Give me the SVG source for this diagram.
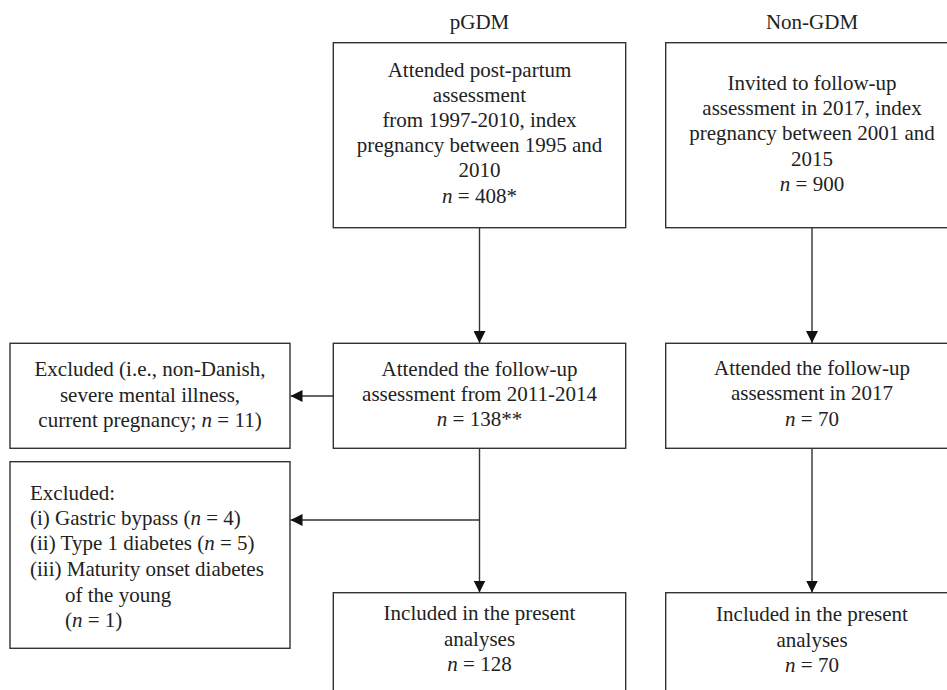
<svg xmlns="http://www.w3.org/2000/svg" width="947" height="690" viewBox="0 0 947 690">
<style>
.box{fill:#fff;stroke:#333;stroke-width:1.4}
.t{font-family:"Liberation Serif","Times New Roman",serif;font-size:21px;fill:#222}
.c{text-anchor:middle}
.ln{stroke:#333;stroke-width:1.4;fill:none}
</style>
<defs>
<marker id="ah" markerUnits="userSpaceOnUse" markerWidth="12" markerHeight="12" refX="12" refY="6" orient="auto">
<path d="M0,0 L12,6 L0,12 z" fill="#111"/>
</marker>
</defs>
<rect width="947" height="690" fill="#fff"/>
<g id="headers">
<text class="t c" x="479.5" y="29">pGDM</text>
<text class="t c" x="812" y="29">Non-GDM</text>
</g>
<g id="connectors">
<line class="ln" x1="479.5" y1="228" x2="479.5" y2="343" marker-end="url(#ah)"/>
<line class="ln" x1="812" y1="228" x2="812" y2="343" marker-end="url(#ah)"/>
<line class="ln" x1="333.3" y1="396" x2="290.5" y2="396" marker-end="url(#ah)"/>
<line class="ln" x1="479.5" y1="448.5" x2="479.5" y2="592.5" marker-end="url(#ah)"/>
<line class="ln" x1="479.5" y1="520" x2="290.5" y2="520" marker-end="url(#ah)"/>
<line class="ln" x1="812" y1="448.5" x2="812" y2="592.5" marker-end="url(#ah)"/>
</g>
<g id="pgdm-start">
<rect class="box" x="333.3" y="42.7" width="292.4" height="185"/>
<text class="t c" x="479.5" y="77">Attended post-partum</text>
<text class="t c" x="479.5" y="102">assessment</text>
<text class="t c" x="479.5" y="127">from 1997-2010, index</text>
<text class="t c" x="479.5" y="152">pregnancy between 1995 and</text>
<text class="t c" x="479.5" y="177">2010</text>
<text class="t c" x="479.5" y="203"><tspan font-style="italic">n</tspan> = 408*</text>
</g>
<g id="nongdm-start">
<rect class="box" x="665.7" y="42.7" width="300" height="185"/>
<text class="t c" x="812" y="89.5">Invited to follow-up</text>
<text class="t c" x="812" y="115">assessment in 2017, index</text>
<text class="t c" x="812" y="140">pregnancy between 2001 and</text>
<text class="t c" x="812" y="165.5">2015</text>
<text class="t c" x="812" y="190.5"><tspan font-style="italic">n</tspan> = 900</text>
</g>
<g id="pgdm-followup">
<rect class="box" x="333.3" y="343.3" width="292.4" height="105"/>
<text class="t c" x="479.5" y="375.5">Attended the follow-up</text>
<text class="t c" x="479.5" y="400.5">assessment from 2011-2014</text>
<text class="t c" x="479.5" y="425.5"><tspan font-style="italic">n</tspan> = 138**</text>
</g>
<g id="nongdm-followup">
<rect class="box" x="665.7" y="343.3" width="300" height="105"/>
<text class="t c" x="812" y="375">Attended the follow-up</text>
<text class="t c" x="812" y="400">assessment in 2017</text>
<text class="t c" x="812" y="425.5"><tspan font-style="italic">n</tspan> = 70</text>
</g>
<g id="excluded-1">
<rect class="box" x="10" y="343.3" width="280" height="105"/>
<text class="t c" x="150" y="376">Excluded (i.e., non-Danish,</text>
<text class="t c" x="150" y="401.5">severe mental illness,</text>
<text class="t c" x="150" y="426.5">current pregnancy; <tspan font-style="italic">n</tspan> = 11)</text>
</g>
<g id="excluded-2">
<rect class="box" x="10" y="461.7" width="280" height="186.6"/>
<text class="t" x="30" y="499.5">Excluded:</text>
<text class="t" x="30" y="524.5">(i) Gastric bypass (<tspan font-style="italic">n</tspan> = 4)</text>
<text class="t" x="30" y="550">(ii) Type 1 diabetes (<tspan font-style="italic">n</tspan> = 5)</text>
<text class="t" x="30" y="575.5">(iii) Maturity onset diabetes</text>
<text class="t" x="65" y="601.5">of the young</text>
<text class="t" x="65" y="626.5">(<tspan font-style="italic">n</tspan> = 1)</text>
</g>
<g id="pgdm-included">
<rect class="box" x="333.3" y="592.7" width="292.4" height="120"/>
<text class="t c" x="479.5" y="620">Included in the present</text>
<text class="t c" x="479.5" y="646">analyses</text>
<text class="t c" x="479.5" y="671"><tspan font-style="italic">n</tspan> = 128</text>
</g>
<g id="nongdm-included">
<rect class="box" x="665.7" y="592.7" width="300" height="120"/>
<text class="t c" x="812" y="621">Included in the present</text>
<text class="t c" x="812" y="646.5">analyses</text>
<text class="t c" x="812" y="671.5"><tspan font-style="italic">n</tspan> = 70</text>
</g>
</svg>
